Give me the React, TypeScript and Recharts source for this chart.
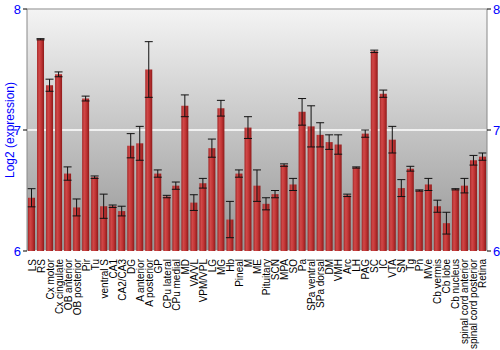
import React from "react";
import {
  ComposedChart,
  Bar,
  Line,
  XAxis,
  YAxis,
  CartesianGrid,
  ErrorBar,
  ReferenceLine,
} from "recharts";

const regions = [
  "LS", "RS", "Cx motor", "Cx cingulate", "OB anterior", "OB posterior", "Pir", "Tu",
  "ventral S", "CA1", "CA2/CA3", "DG", "A anterior", "A posterior", "GP", "CPu lateral",
  "CPu medial", "MD", "VA/VL", "VPM/VPL", "LG", "MG", "Hb", "Pineal", "M", "ME",
  "Pituitary", "SCN", "MPA", "SO", "Pa", "SPa ventral", "SPa dorsal", "DM", "VMH", "Arc",
  "LH", "PAG", "SC", "IC", "VTA", "SN", "Tg", "Pn", "MVe", "Cb vermis", "Cb lobe",
  "Cb nucleus", "spinal cord anterior", "spinal cord posterior", "Retina",
];

const expression = [
  6.44, 7.75, 7.37, 7.46, 6.64, 6.36, 7.26, 6.61,
  6.37, 6.37, 6.33, 6.87, 6.89, 7.5, 6.64, 6.45,
  6.54, 7.2, 6.4, 6.56, 6.85, 7.18, 6.26, 6.64, 7.02, 6.54,
  6.39, 6.47, 6.71, 6.55, 7.15, 7.03, 6.96, 6.9, 6.88, 6.46,
  6.69, 6.97, 7.65, 7.3, 6.92, 6.52, 6.68, 6.5, 6.55, 6.37, 6.23,
  6.51, 6.54, 6.75, 6.78,
];

const stdError = [
  0.075, 0.005, 0.05, 0.02, 0.055, 0.07, 0.02, 0.01,
  0.1, 0.01, 0.04, 0.1, 0.14, 0.23, 0.03, 0.01,
  0.03, 0.09, 0.065, 0.04, 0.075, 0.065, 0.15, 0.03, 0.09, 0.13,
  0.05, 0.03, 0.01, 0.05, 0.11, 0.17, 0.1, 0.06, 0.08, 0.01,
  0.005, 0.03, 0.01, 0.03, 0.11, 0.07, 0.02, 0.005, 0.05, 0.05, 0.09,
  0.005, 0.06, 0.04, 0.03,
];

const yTicks = [6, 7, 8];

const data = regions.map((name, i) => ({
  name,
  value: expression[i],
  err: stdError[i],
}));

const tickFont = { fontFamily: "Liberation Sans, Arial, sans-serif" };

function RegionTick({ x, y, payload }: any) {
  return (
    <text
      x={x}
      y={y}
      dy={4}
      transform={`rotate(-90, ${x}, ${y})`}
      textAnchor="end"
      fontSize={10}
      fill="#000"
      style={tickFont}
    >
      {payload.value}
    </text>
  );
}

export default function App() {
  return (
    <div style={{ position: "fixed", left: 0, top: 0, width: 500, height: 350, background: "#fff" }}>
      <ComposedChart
        width={500}
        height={350}
        data={data}
        margin={{ top: 9, right: 0, bottom: 0, left: 0 }}
        barCategoryGap={1}
      >
        <defs>
          <linearGradient id="bgGrad" x1="0" y1="0" x2="0" y2="1">
            <stop offset="0%" stopColor="#f4f4f4" />
            <stop offset="100%" stopColor="#959595" />
          </linearGradient>
          <linearGradient id="barGrad" x1="0" y1="0" x2="1" y2="0">
            <stop offset="0%" stopColor="#a52828" />
            <stop offset="30%" stopColor="#d04848" />
            <stop offset="60%" stopColor="#c23535" />
            <stop offset="100%" stopColor="#8e1a1a" />
          </linearGradient>
        </defs>
        <CartesianGrid
          yAxisId="left"
          vertical={false}
          stroke="#ffffff"
          strokeWidth={1.5}
          fill="url(#bgGrad)"
          fillOpacity={1}
        />
        <XAxis
          dataKey="name"
          interval={0}
          height={99}
          tick={<RegionTick />}
          tickLine={false}
          axisLine={false}
        />
        <YAxis
          yAxisId="left"
          domain={[6, 8]}
          ticks={yTicks}
          width={27}
          allowDataOverflow
          tick={{ fill: "#0000ff", fontSize: 13, ...tickFont }}
          tickSize={4}
          tickLine={{ stroke: "#000" }}
          axisLine={{ stroke: "#888" }}
          label={{
            value: "Log2 (expression)",
            angle: -90,
            position: "insideLeft",
            offset: 10,
            fill: "#0000ff",
            fontSize: 12,
            style: { textAnchor: "middle", ...tickFont },
          }}
        />
        <YAxis
          yAxisId="right"
          orientation="right"
          domain={[6, 8]}
          ticks={yTicks}
          width={13}
          allowDataOverflow
          tick={{ fill: "#0000ff", fontSize: 13, ...tickFont }}
          tickSize={4}
          tickLine={{ stroke: "#000" }}
          axisLine={{ stroke: "#888" }}
        />
        <ReferenceLine yAxisId="left" y={8} stroke="#888" />
        <Bar
          yAxisId="left"
          dataKey="value"
          fill="url(#barGrad)"
          isAnimationActive={false}
        >
          <ErrorBar dataKey="err" width={4} stroke="#111" strokeWidth={1} />
        </Bar>
        <Line
          yAxisId="right"
          dataKey="value"
          stroke="none"
          dot={false}
          activeDot={false}
          isAnimationActive={false}
        />
      </ComposedChart>
    </div>
  );
}
